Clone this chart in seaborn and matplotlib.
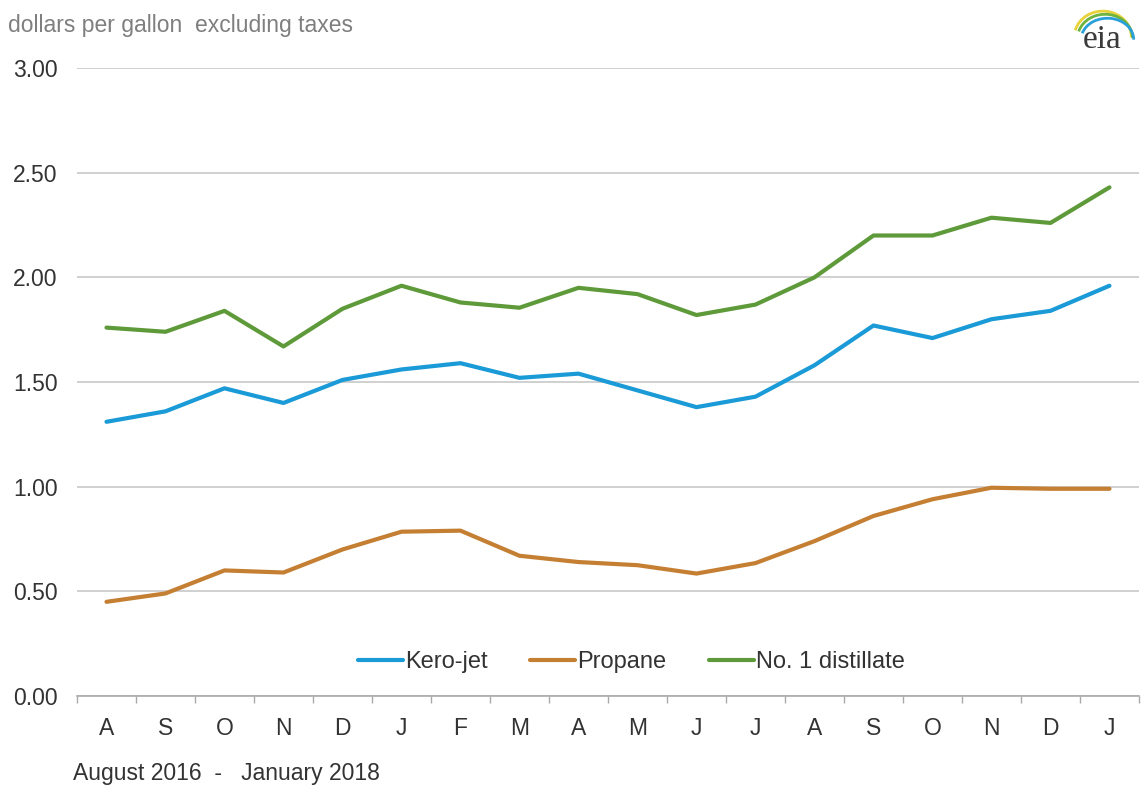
import numpy as np
import pandas as pd
import matplotlib
matplotlib.use("Agg")
import matplotlib.pyplot as plt
from matplotlib.patches import Arc
import seaborn as sns

months = ["A", "S", "O", "N", "D", "J", "F", "M", "A", "M", "J", "J",
          "A", "S", "O", "N", "D", "J"]
kero_jet = [1.31, 1.36, 1.47, 1.40, 1.51, 1.56, 1.59, 1.52, 1.54, 1.46, 1.38, 1.43,
            1.58, 1.77, 1.71, 1.80, 1.84, 1.96]
propane = [0.45, 0.49, 0.60, 0.59, 0.70, 0.785, 0.79, 0.67, 0.64, 0.625, 0.585, 0.635,
           0.74, 0.86, 0.94, 0.995, 0.99, 0.99]
distillate = [1.76, 1.74, 1.84, 1.67, 1.85, 1.96, 1.88, 1.855, 1.95, 1.92, 1.82, 1.87,
              2.00, 2.20, 2.20, 2.285, 2.26, 2.43]
series = ["Kero-jet", "Propane", "No. 1 distillate"]
colors = ["#1a9ad6", "#c47f33", "#5e9a3a"]

frames = []
for name, vals in zip(series, [kero_jet, propane, distillate]):
    frames.append(pd.DataFrame({"x": np.arange(len(months)), "price": vals, "fuel": name}))
df = pd.concat(frames, ignore_index=True)

sns.set_style("white")
plt.rcParams["font.family"] = ["Liberation Sans", "DejaVu Sans"]

fig = plt.figure(figsize=(11.44, 7.93), dpi=100)
ax = fig.add_axes([0.0673, 0.1223, 0.9283, 0.7919])

sns.lineplot(data=df, x="x", y="price", hue="fuel", hue_order=series,
             palette=dict(zip(series, colors)), linewidth=3, ax=ax)

ax.set_xlim(-0.5, len(months) - 0.5)
ax.set_ylim(0, 3)
ax.set_yticks(np.arange(0, 3.01, 0.5))
ax.set_yticklabels([f"{v:.2f}" for v in np.arange(0, 3.01, 0.5)])
ax.yaxis.grid(True, color="#c8c8c8", linewidth=1.2)
ax.set_axisbelow(True)
ax.set_xticks(np.arange(len(months)))
ax.set_xticklabels(months)
ax.set_xticks(np.arange(-0.5, len(months)), minor=True)
ax.tick_params(axis="x", which="major", bottom=False, length=0, pad=15, labelsize=16.5,
               labelcolor="#333333")
ax.tick_params(axis="x", which="minor", bottom=True, length=5, color="#aaaaaa", width=1,
               direction="out")
ax.tick_params(axis="y", length=0, pad=14, labelsize=16.5, labelcolor="#333333")
ax.set_xlabel("")
ax.set_ylabel("")
for s in ["top", "right", "left"]:
    ax.spines[s].set_visible(False)
ax.spines["bottom"].set_color("#aaaaaa")
ax.spines["bottom"].set_linewidth(1.2)

leg = ax.legend(loc="center", bbox_to_anchor=(0.522, 0.054), ncol=3, frameon=False,
                fontsize=17, handlelength=1.9, handletextpad=0.1, columnspacing=1.8)
for t in leg.get_texts():
    t.set_color("#333333")

fig.text(0.007, 0.968, "dollars per gallon  excluding taxes", fontsize=16.5, color="#7f7f7f",
         ha="left", va="center")
fig.text(0.064, 0.025, "August 2016  -   January 2018", fontsize=16.5, color="#333333",
         ha="left", va="center")

# eia logo
fig.text(0.963, 0.950, "eia", fontsize=24, family="Liberation Serif", color="#3a3a3a",
         ha="center", va="center")
for (w, h, c, cx, cy) in [(0.050, 0.066, "#e8d23a", 0.964, 0.953),
                          (0.048, 0.060, "#6cb33f", 0.966, 0.952),
                          (0.046, 0.054, "#2aa0d8", 0.968, 0.950)]:
    fig.add_artist(Arc((cx, cy), w, h, theta1=0, theta2=160, color=c, lw=2,
                       transform=fig.transFigure))

fig.savefig("out.png", dpi=100)
